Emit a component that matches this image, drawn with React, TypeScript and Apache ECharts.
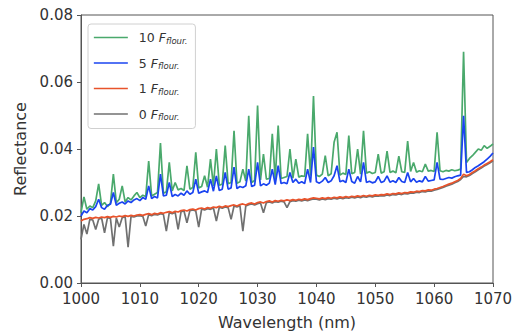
import React, { useEffect, useRef } from "react";
import * as echarts from "echarts";

// Wavelength grid: 1000 to 1070 nm in 0.5 nm steps (141 samples)
const WL_START = 1000;
const WL_STEP = 0.5;

const xTicks = [1000, 1010, 1020, 1030, 1040, 1050, 1060, 1070];
const yTicks = [0.0, 0.02, 0.04, 0.06, 0.08];

const seriesNames = ["10 F", "5 F", "1 F", "0 F"];

// 10 F_flour. (green)
const green = [
  0.0210, 0.0257, 0.0220, 0.0230, 0.0225, 0.0245, 0.0296, 0.0232, 0.0240, 0.0228,
  0.0238, 0.0325, 0.0240, 0.0250, 0.0290, 0.0242, 0.0255, 0.0248, 0.0260, 0.0270,
  0.0255, 0.0262, 0.0258, 0.0364, 0.0260, 0.0265, 0.0270, 0.0418, 0.0268, 0.0272,
  0.0360, 0.0275, 0.0300, 0.0278, 0.0282, 0.0276, 0.0350, 0.0280, 0.0285, 0.0390,
  0.0284, 0.0288, 0.0320, 0.0286, 0.0370, 0.0290, 0.0400, 0.0292, 0.0295, 0.0410,
  0.0296, 0.0300, 0.0454, 0.0298, 0.0302, 0.0340, 0.0304, 0.0499, 0.0300, 0.0306,
  0.0530, 0.0308, 0.0385, 0.0310, 0.0312, 0.0445, 0.0310, 0.0470, 0.0312, 0.0315,
  0.0318, 0.0400, 0.0313, 0.0370, 0.0316, 0.0320, 0.0318, 0.0445, 0.0320, 0.0558,
  0.0322, 0.0318, 0.0325, 0.0380, 0.0320, 0.0326, 0.0420, 0.0450, 0.0322, 0.0328,
  0.0324, 0.0440, 0.0326, 0.0330, 0.0400, 0.0325, 0.0454, 0.0328, 0.0332, 0.0327,
  0.0330, 0.0385, 0.0328, 0.0332, 0.0394, 0.0330, 0.0334, 0.0329, 0.0379, 0.0332,
  0.0330, 0.0424, 0.0333, 0.0360, 0.0331, 0.0335, 0.0332, 0.0355, 0.0334, 0.0336,
  0.0333, 0.0450, 0.0335, 0.0332, 0.0336, 0.0334, 0.0338, 0.0335, 0.0337, 0.0340,
  0.0690, 0.0360, 0.0372, 0.0380, 0.0390, 0.0400, 0.0396, 0.0410, 0.0402, 0.0408,
  0.0415,
];

// 5 F_flour. (blue)
const blue = [
  0.0200, 0.0215, 0.0210, 0.0222, 0.0218, 0.0228, 0.0250, 0.0225, 0.0220, 0.0232,
  0.0235, 0.0270, 0.0232, 0.0238, 0.0242, 0.0236, 0.0245, 0.0240, 0.0248, 0.0252,
  0.0246, 0.0255, 0.0250, 0.0290, 0.0252, 0.0258, 0.0254, 0.0325, 0.0260, 0.0262,
  0.0300, 0.0258, 0.0264, 0.0260, 0.0268, 0.0262, 0.0275, 0.0265, 0.0270, 0.0310,
  0.0268, 0.0272, 0.0275, 0.0270, 0.0310, 0.0274, 0.0320, 0.0276, 0.0280, 0.0330,
  0.0280, 0.0284, 0.0346, 0.0282, 0.0288, 0.0285, 0.0290, 0.0340, 0.0288, 0.0292,
  0.0360, 0.0290, 0.0296, 0.0292, 0.0298, 0.0340, 0.0294, 0.0350, 0.0297, 0.0300,
  0.0296, 0.0330, 0.0300, 0.0310, 0.0298, 0.0302, 0.0297, 0.0340, 0.0300, 0.0406,
  0.0302, 0.0298, 0.0304, 0.0315, 0.0300, 0.0305, 0.0320, 0.0350, 0.0302, 0.0306,
  0.0300, 0.0340, 0.0303, 0.0298, 0.0318, 0.0302, 0.0360, 0.0300, 0.0304, 0.0299,
  0.0302, 0.0318, 0.0300, 0.0304, 0.0320, 0.0301, 0.0305, 0.0300, 0.0315, 0.0303,
  0.0300, 0.0330, 0.0302, 0.0312, 0.0301, 0.0305, 0.0302, 0.0318, 0.0304, 0.0306,
  0.0308, 0.0360, 0.0310, 0.0309, 0.0312, 0.0315, 0.0313, 0.0317, 0.0320, 0.0322,
  0.0499, 0.0330, 0.0332, 0.0338, 0.0345, 0.0350, 0.0356, 0.0362, 0.0370, 0.0378,
  0.0388,
];

// 1 F_flour. (red)
const red = [
  0.0185, 0.0190, 0.0192, 0.0195, 0.0193, 0.0196, 0.0194, 0.0197, 0.0195, 0.0198,
  0.0196, 0.0199, 0.0197, 0.0200, 0.0198, 0.0201, 0.0199, 0.0202, 0.0200, 0.0203,
  0.0204, 0.0202, 0.0205, 0.0207, 0.0204, 0.0208, 0.0206, 0.0210, 0.0208, 0.0211,
  0.0213, 0.0210, 0.0214, 0.0212, 0.0216, 0.0218, 0.0215, 0.0219, 0.0221, 0.0218,
  0.0222, 0.0224, 0.0221, 0.0225, 0.0223, 0.0227, 0.0225, 0.0229, 0.0226, 0.0230,
  0.0228, 0.0231, 0.0233, 0.0230, 0.0234, 0.0236, 0.0233, 0.0237, 0.0239, 0.0236,
  0.0240, 0.0242, 0.0239, 0.0243, 0.0245, 0.0242, 0.0246, 0.0244, 0.0247, 0.0245,
  0.0248, 0.0246, 0.0249, 0.0247, 0.0250, 0.0248, 0.0251, 0.0249, 0.0252, 0.0254,
  0.0253, 0.0251, 0.0254, 0.0252, 0.0255, 0.0253, 0.0256, 0.0254, 0.0257, 0.0255,
  0.0258, 0.0256, 0.0259, 0.0257, 0.0260, 0.0258, 0.0261, 0.0259, 0.0262, 0.0260,
  0.0263, 0.0262, 0.0264, 0.0263, 0.0266, 0.0264, 0.0267, 0.0266, 0.0269, 0.0267,
  0.0270, 0.0269, 0.0272, 0.0271, 0.0274, 0.0273, 0.0276, 0.0275, 0.0278, 0.0277,
  0.0280, 0.0282, 0.0285, 0.0288, 0.0292, 0.0295, 0.0298, 0.0302, 0.0306, 0.0312,
  0.0325, 0.0320, 0.0324, 0.0330, 0.0335, 0.0341, 0.0346, 0.0352, 0.0357, 0.0362,
  0.0368,
];

// 0 F_flour. (grey)
const grey = [
  0.0130, 0.0175, 0.0146, 0.0190, 0.0188, 0.0160, 0.0190, 0.0194, 0.0150, 0.0195,
  0.0193, 0.0110, 0.0194, 0.0167, 0.0195, 0.0198, 0.0107, 0.0199, 0.0197, 0.0200,
  0.0201, 0.0199, 0.0170, 0.0204, 0.0201, 0.0205, 0.0203, 0.0207, 0.0205, 0.0155,
  0.0210, 0.0207, 0.0211, 0.0160, 0.0213, 0.0215, 0.0180, 0.0216, 0.0218, 0.0215,
  0.0167, 0.0221, 0.0218, 0.0222, 0.0220, 0.0224, 0.0185, 0.0226, 0.0223, 0.0227,
  0.0225, 0.0190, 0.0230, 0.0227, 0.0231, 0.0155, 0.0230, 0.0234, 0.0236, 0.0233,
  0.0237, 0.0239, 0.0210, 0.0240, 0.0242, 0.0239, 0.0243, 0.0241, 0.0244, 0.0242,
  0.0225, 0.0243, 0.0246, 0.0244, 0.0247, 0.0245, 0.0248, 0.0246, 0.0249, 0.0251,
  0.0250, 0.0248, 0.0251, 0.0249, 0.0252, 0.0250, 0.0253, 0.0251, 0.0254, 0.0252,
  0.0255, 0.0253, 0.0256, 0.0254, 0.0257, 0.0255, 0.0258, 0.0256, 0.0259, 0.0257,
  0.0260, 0.0259, 0.0261, 0.0260, 0.0263, 0.0261, 0.0264, 0.0263, 0.0266, 0.0264,
  0.0267, 0.0266, 0.0269, 0.0268, 0.0271, 0.0270, 0.0273, 0.0272, 0.0275, 0.0274,
  0.0277, 0.0279, 0.0282, 0.0285, 0.0289, 0.0292, 0.0295, 0.0299, 0.0303, 0.0309,
  0.0318, 0.0317, 0.0321, 0.0327, 0.0332, 0.0338, 0.0343, 0.0349, 0.0354, 0.0359,
  0.0365,
];

const colors: Record<string, string> = {
  "10 F": "#4aa96c",
  "5 F": "#1a44f0",
  "1 F": "#e8532b",
  "0 F": "#707070",
};

const FONT = "DejaVu Sans";

function toPairs(vals: number[]) {
  return vals.map((v, i) => [WL_START + i * WL_STEP, v]);
}

export default function App() {
  const ref = useRef<HTMLDivElement>(null);
  useEffect(() => {
    if (!ref.current) return;
    const chart = echarts.init(ref.current, undefined, { renderer: "svg" });
    const valuesByName: Record<string, number[]> = {
      "10 F": green,
      "5 F": blue,
      "1 F": red,
      "0 F": grey,
    };
    // draw order: green bottom, then blue, grey, red on top
    const drawOrder = ["10 F", "5 F", "0 F", "1 F"];
    const series = drawOrder.map((name) => ({
      name,
      type: "line",
      data: toPairs(valuesByName[name]),
      showSymbol: false,
      symbol: "none",
      lineStyle: { width: 1.7, color: colors[name] },
      itemStyle: { color: colors[name] },
      silent: true,
    }));
    chart.setOption({
      animation: false,
      textStyle: { fontFamily: FONT },
      grid: {
        left: 81,
        right: 27,
        top: 15,
        bottom: 48,
        show: true,
        borderColor: "#555",
        borderWidth: 1,
        backgroundColor: "#fff",
        outerBoundsMode: "none",
        containLabel: false,
      },
      legend: {
        data: seriesNames,
        orient: "vertical",
        left: 88,
        top: 24,
        itemWidth: 34,
        itemHeight: 14,
        itemGap: 11.5,
        padding: [7, 8, 7, 5],
        backgroundColor: "#fff",
        borderColor: "#d0d0d0",
        borderWidth: 1,
        borderRadius: 3,
        itemStyle: { opacity: 0 },
        lineStyle: { width: 1.7 },
        formatter: (name: string) => {
          const n = name.split(" ")[0];
          return `{a|${n} }{b|F}{c|flour.}`;
        },
        textStyle: {
          rich: {
            a: { fontSize: 12.5, color: "#333", fontFamily: FONT, padding: [0, 0, 0, 6] },
            b: { fontSize: 12.5, color: "#333", fontStyle: "italic", fontFamily: FONT },
            c: {
              fontSize: 8.5,
              color: "#333",
              fontStyle: "italic",
              fontFamily: FONT,
              verticalAlign: "bottom",
              padding: [6, 0, 0, 0],
            },
          },
        },
      },
      xAxis: {
        type: "value",
        min: xTicks[0],
        max: xTicks[xTicks.length - 1],
        interval: 10,
        name: "Wavelength (nm)",
        nameLocation: "middle",
        nameGap: 31,
        nameTextStyle: { fontSize: 16, color: "#333", fontFamily: FONT },
        axisLine: { show: true, lineStyle: { color: "#555", width: 1 } },
        axisTick: { show: true, length: 4, lineStyle: { color: "#555" } },
        axisLabel: {
          fontSize: 15,
          color: "#333",
          margin: 8,
          formatter: (v: number) => String(v),
        },
        splitLine: { show: false },
      },
      yAxis: {
        type: "value",
        min: yTicks[0],
        max: yTicks[yTicks.length - 1],
        interval: 0.02,
        name: "Reflectance",
        nameLocation: "middle",
        nameGap: 53,
        nameRotate: 90,
        nameTextStyle: { fontSize: 16, color: "#333", fontFamily: FONT },
        axisLine: { show: true, lineStyle: { color: "#555", width: 1 } },
        axisTick: { show: true, length: 4, lineStyle: { color: "#555" } },
        axisLabel: {
          fontSize: 15,
          color: "#333",
          margin: 8,
          formatter: (v: number) => v.toFixed(2),
        },
        splitLine: { show: false },
      },
      series,
    });
    return () => chart.dispose();
  }, []);
  return <div ref={ref} style={{ width: 520, height: 331, position: "absolute", left: 0, top: 0, background: "#fff" }} />;
}
